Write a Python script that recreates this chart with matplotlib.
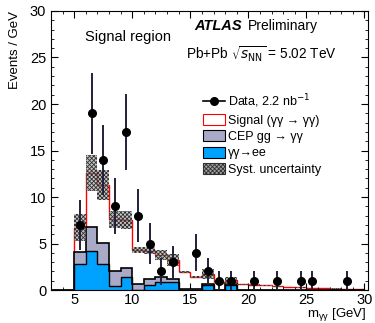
import numpy as np
import matplotlib
matplotlib.use("Agg")
import matplotlib.pyplot as plt
from matplotlib.lines import Line2D
from matplotlib.patches import Patch
from matplotlib.ticker import MultipleLocator

plt.rcParams['font.family'] = ['Liberation Sans', 'DejaVu Sans']
plt.rcParams['hatch.linewidth'] = 0.6

# bin edges (GeV), 1 GeV bins from 3 to 30
edges = np.arange(3, 31, 1)

# gamma gamma -> ee (blue), per bin
ee = [0, 0, 2.8, 4.2, 2.85, 0.45, 1.4, 0.0, 0.5, 0.9, 0.9, 0, 0, 0.55, 0, 0.55,
      0, 0, 0, 0, 0, 0, 0, 0, 0, 0, 0]
# CEP gg -> gamma gamma (stacked on ee)
cep = [0, 0, 1.25, 2.6, 2.25, 1.65, 1.0, 0.7, 0.7, 0.45, 0.3, 0.15, 0.1, 0.05, 0, 0.05,
       0, 0, 0, 0, 0, 0, 0, 0, 0, 0, 0]
# total prediction incl. signal
total = [0, 0, 6.7, 12.6, 11.3, 7.6, 7.5, 4.3, 4.25, 3.8, 3.2, 1.95, 1.4, 1.7, 0.8, 1.05,
         0.6, 0.55, 0.5, 0.4, 0.35, 0.3, 0.25, 0.2, 0.15, 0.12, 0.1]
# systematic uncertainty (half width)
syst = [0, 0, 1.45, 1.95, 1.6, 0.95, 0.95, 0.3, 0.35, 0.55, 0.65, 0.15, 0.12, 0.55, 0.12, 0.4,
        0.05, 0.05, 0.04, 0.04, 0.03, 0.03, 0.02, 0.02, 0.02, 0.01, 0.01]

# data
data_x = [5.5, 6.5, 7.5, 8.5, 9.5, 10.5, 11.5, 12.5, 13.5, 15.5, 16.5, 17.5, 18.5,
          20.5, 22.5, 24.5, 25.5, 28.5]
data_y = [7, 19, 14, 9, 17, 8, 5, 2, 3, 4, 2, 1, 1, 1, 1, 1, 1, 1]

ee = np.array(ee)
cep = np.array(cep)
total = np.array(total)
syst = np.array(syst)
data_y = np.array(data_y)

fig = plt.figure(figsize=(3.75, 3.23), dpi=100)
ax = fig.add_axes([0.136, 0.102, 0.845, 0.864])

ax.stairs(total, edges, color='red', lw=1.0, zorder=1)
ax.stairs(ee + cep, edges, baseline=ee, fill=True, facecolor='#a9a9c8', edgecolor='none', zorder=2)
ax.stairs(ee, edges, fill=True, facecolor='#00a2ff', edgecolor='none', zorder=2)
ax.stairs(ee + cep, edges, color='black', lw=1.2, zorder=3)
ax.stairs(ee, edges, color='black', lw=1.0, zorder=3)
ax.stairs(total + syst, edges, baseline=total - syst, fill=True, facecolor=(0.6, 0.6, 0.6, 0.55),
          edgecolor='#303030', hatch='xxxxxxxx', lw=0, zorder=4)

ax.errorbar(data_x, data_y, yerr=np.sqrt(data_y), fmt='o', color='black', ecolor='#20203c',
            ms=5.5, elinewidth=1.4, capsize=0, zorder=5)

ax.set_xlim(3, 30.3)
ax.set_ylim(0, 30)
ax.xaxis.set_major_locator(MultipleLocator(5))
ax.xaxis.set_minor_locator(MultipleLocator(1))
ax.yaxis.set_major_locator(MultipleLocator(5))
ax.yaxis.set_minor_locator(MultipleLocator(1))
ax.tick_params(which='both', direction='in', top=True, right=True, labelsize=10.5)
ax.tick_params(axis='x', pad=2)
ax.tick_params(which='major', length=5)
ax.tick_params(which='minor', length=2.5)

ax.set_ylabel('Events / GeV', fontsize=9.5, loc='top', labelpad=6)
fig.text(0.978, 0.0, r'm$_{\mathregular{γγ}}$ [GeV]', fontsize=9.5, ha='right', va='bottom')

ax.text(0.108, 0.905, 'Signal region', transform=ax.transAxes, fontsize=10.5, va='center')
ax.text(0.453, 0.945, 'ATLAS', transform=ax.transAxes, fontsize=10.5, fontweight='bold',
        fontstyle='italic', va='center')
ax.text(0.62, 0.945, 'Preliminary', transform=ax.transAxes, fontsize=10, va='center')
ax.text(0.425, 0.845, r'Pb+Pb $\sqrt{s_{\mathrm{NN}}}$ = 5.02 TeV', transform=ax.transAxes,
        fontsize=9.8, va='center')

handles = [
    Line2D([], [], color='black', marker='o', ms=5.5, lw=1.2),
    Patch(facecolor='white', edgecolor='red', lw=0.8),
    Patch(facecolor='#a9a9c8', edgecolor='black', lw=0.8),
    Patch(facecolor='#00a2ff', edgecolor='black', lw=0.8),
    Patch(facecolor='#a0a0a0', edgecolor='#303030', hatch='xxxxxxxx', lw=0.8),
]
labels = [r'Data, 2.2 nb$^{-1}$', 'Signal (γγ → γγ)', 'CEP gg → γγ', 'γγ→ee',
          'Syst. uncertainty']
ax.legend(handles, labels, loc='upper left', bbox_to_anchor=(0.465, 0.725), frameon=False,
          fontsize=9, handlelength=1.75, handleheight=1.0, handletextpad=0.25,
          labelspacing=0.28, borderaxespad=0)

fig.savefig('out.png', dpi=100)
